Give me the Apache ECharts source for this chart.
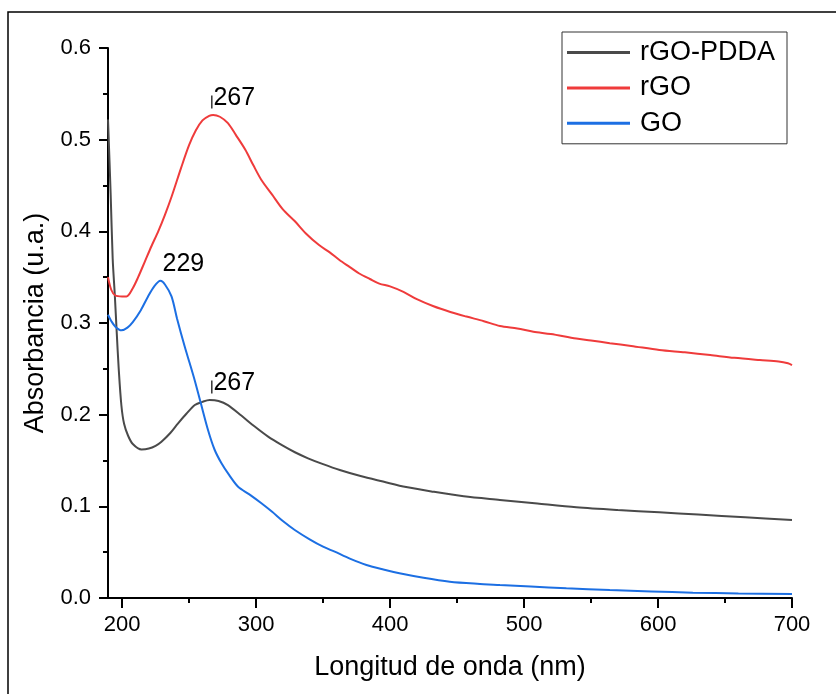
<!DOCTYPE html>
<html>
<head>
<meta charset="utf-8">
<script src="https://cdn.jsdelivr.net/npm/echarts@6/dist/echarts.min.js"></script>
<style>
html,body{margin:0;padding:0;background:#fff;}
#chart{width:836px;height:694px;}
</style>
</head>
<body>
<div id="chart"></div>
<script>
// ---- Data ----
var seriesNames = ['rGO-PDDA', 'rGO', 'GO'];

var rgoPddaData = [
  [189.5,0.522],[191.5,0.44],[193,0.37],[194.6,0.33],[196,0.29],[197.5,0.25],[199.5,0.21],
  [201.5,0.19],[204.5,0.177],[208,0.168],[214.5,0.162],[220,0.163],[225,0.166],[229.4,0.1705],
  [236,0.180],[241.8,0.1906],[248,0.201],[254.3,0.2105],[260,0.214],[265.4,0.216],[272,0.215],
  [279,0.2105],[289,0.199],[299,0.187],[309,0.176],[319,0.167],[329,0.159],[338.8,0.1524],
  [350,0.146],[362.5,0.1396],[378,0.133],[394.8,0.127],[412,0.121],[432,0.116],[455,0.111],
  [482,0.107],[510,0.103],[539,0.099],[570,0.096],[601,0.0935],[630,0.091],[665,0.088],[700,0.085]
];

var rgoData = [
  [189.5,0.350],[192,0.336],[195,0.330],[200,0.329],[203.3,0.329],[208,0.338],[212,0.350],
  [217,0.367],[222,0.384],[227,0.400],[232,0.418],[237,0.438],[244,0.469],[250,0.494],
  [255,0.510],[260,0.521],[265,0.526],[268,0.527],[273,0.525],[279,0.518],[285,0.505],
  [292,0.489],[298,0.472],[304,0.456],[312,0.440],[320,0.424],[329,0.411],[337,0.398],
  [347,0.385],[355,0.377],[362,0.369],[370,0.361],[377,0.354],[385,0.348],[392,0.343],
  [400,0.340],[410,0.334],[420,0.326],[432,0.3185],[445,0.312],[457,0.307],[470,0.302],
  [482,0.2967],[495,0.294],[507,0.2905],[520,0.288],[539,0.283],[550,0.281],[564,0.278],
  [580,0.275],[601,0.2705],[620,0.268],[639,0.265],[657,0.262],[676,0.2596],[690,0.258],
  [697,0.256],[700,0.254]
];

var goData = [
  [189.5,0.309],[192,0.302],[195,0.296],[199.5,0.292],[204,0.295],[208,0.301],[214,0.314],
  [219.4,0.329],[224,0.340],[228.6,0.346],[232,0.342],[236.9,0.329],[241,0.305],[246.8,0.274],
  [250.5,0.256],[254.3,0.237],[258.5,0.214],[264.2,0.183],[269,0.162],[274.2,0.147],[280,0.134],
  [286.6,0.1214],[295,0.113],[304,0.1033],[312,0.094],[320,0.084],[328.9,0.0742],[340,0.064],
  [350,0.056],[358.7,0.0505],[370,0.043],[382.4,0.036],[395,0.031],[407,0.0269],[425,0.022],
  [444.6,0.0178],[465,0.0155],[482,0.0142],[505,0.0125],[531.6,0.0106],[564,0.0087],
  [595,0.0072],[626,0.0058],[660,0.005],[700,0.0044]
];

var xMajorTicks = [200, 300, 400, 500, 600, 700];
var xMinorTicks = [250, 350, 450, 550, 650];
var annoNm = [267, 267, 229];
var annoText = ['267', '267', '229'];
var annoShowTick = [true, true, false];

// ---- helpers ----
function nearestValue(data, nm) {
  var best = data[0];
  for (var i = 1; i < data.length; i++) {
    if (Math.abs(data[i][0] - nm) < Math.abs(best[0] - nm)) best = data[i];
  }
  return best[1];
}

var colors = ['#4a4a4a', '#ef3b3b', '#1c6fe3'];
var allData = [rgoPddaData, rgoData, goData];
var FONT = '"Liberation Sans", Arial, sans-serif';

function markFor(idx) {
  return {
    silent: true,
    symbol: 'rect',
    symbolSize: [1.2, 13],
    symbolOffset: [0, -13],
    itemStyle: { color: annoShowTick[idx] ? '#000' : 'rgba(0,0,0,0)' },
    label: {
      show: true, position: 'right', distance: 1, formatter: annoText[idx],
      color: '#000', fontSize: 25, fontFamily: FONT, offset: [0, -4]
    },
    data: [{ coord: [annoNm[idx], nearestValue(allData[idx], annoNm[idx])] }]
  };
}

var series = seriesNames.map(function (name, i) {
  return {
    name: name, type: 'line', data: allData[i], xAxisIndex: 0, yAxisIndex: 0,
    showSymbol: false, symbol: 'none', smooth: 0.3,
    lineStyle: { color: colors[i], width: 2 }, itemStyle: { color: colors[i] },
    markPoint: markFor(i), z: 2 + i
  };
});

var chart = echarts.init(document.getElementById('chart'), null, { renderer: 'canvas' });
chart.setOption({
  animation: false,
  backgroundColor: '#fff',
  textStyle: { fontFamily: FONT },
  graphic: [{
    type: 'rect', silent: true, z: 100,
    shape: { x: 8, y: 12, width: 900, height: 800 },
    style: { fill: 'none', stroke: '#000', lineWidth: 1.5 }
  }],
  grid: { left: 108, top: 48, right: 44, bottom: 96, containLabel: false },
  legend: {
    orient: 'vertical', left: 562, top: 32,
    padding: [7, 12, 7, 5], itemGap: 8.4,
    itemWidth: 63, itemHeight: 3, icon: 'rect',
    borderColor: '#333', borderWidth: 1,
    textStyle: { fontSize: 27, lineHeight: 26, color: '#000', fontFamily: FONT, padding: [0, 0, 0, 5] },
    data: seriesNames
  },
  xAxis: [{
    type: 'value', min: 189.5, max: 700,
    name: 'Longitud de onda (nm)', nameLocation: 'middle', nameGap: 56,
    nameTextStyle: { fontSize: 27, color: '#000', fontFamily: FONT },
    axisLine: { show: true, onZero: false, lineStyle: { color: '#000', width: 2 } },
    axisTick: { show: true, length: 10, customValues: xMajorTicks, lineStyle: { color: '#000', width: 2 } },
    axisLabel: { show: true, customValues: xMajorTicks, fontSize: 22, color: '#000', margin: 16, fontFamily: FONT },
    splitLine: { show: false }
  }, {
    type: 'value', min: 189.5, max: 700, position: 'bottom',
    axisLine: { show: false },
    axisTick: { show: true, length: 5, customValues: xMinorTicks, lineStyle: { color: '#000', width: 2 } },
    axisLabel: { show: false, customValues: xMinorTicks },
    splitLine: { show: false }
  }],
  yAxis: {
    type: 'value', min: 0, max: 0.6, interval: 0.1,
    name: 'Absorbancia (u.a.)', nameLocation: 'middle', nameGap: 56, nameRotate: 90,
    nameTextStyle: { fontSize: 27, color: '#000', fontFamily: FONT },
    axisLine: { show: true, lineStyle: { color: '#000', width: 2 } },
    axisTick: { show: true, length: 9, lineStyle: { color: '#000', width: 2 } },
    minorTick: { show: true, splitNumber: 2, length: 5, lineStyle: { color: '#000', width: 2 } },
    axisLabel: { fontSize: 22, color: '#000', margin: 17, fontFamily: FONT,
      formatter: function (v) { return v.toFixed(1); } },
    splitLine: { show: false }
  },
  series: series
});
</script>
</body>
</html>
